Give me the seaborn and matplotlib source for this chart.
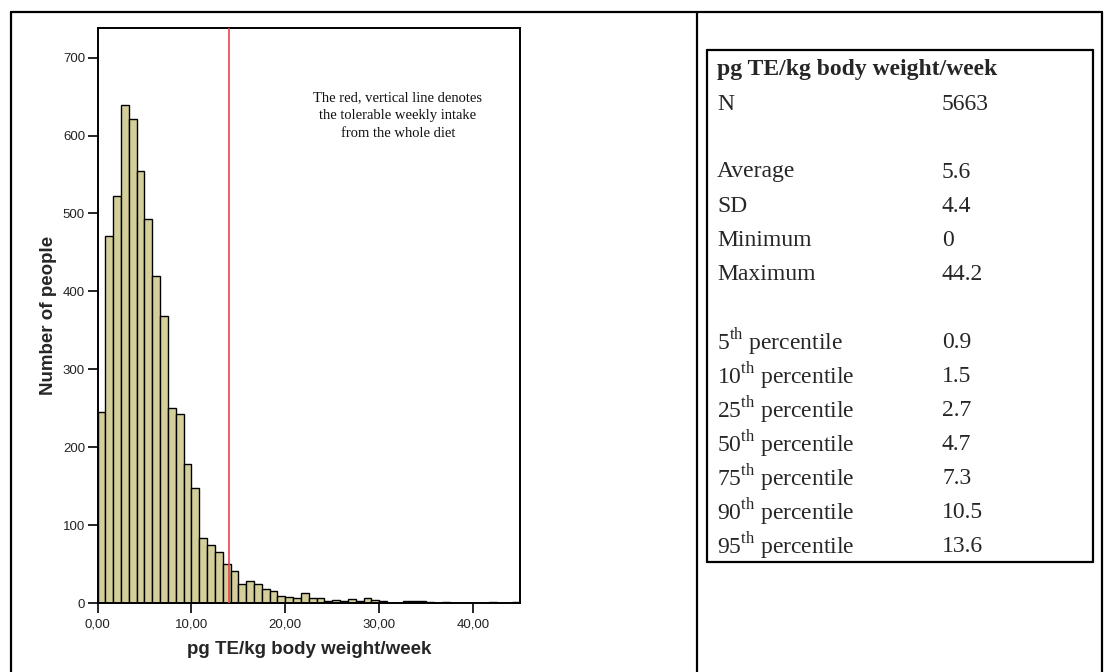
import numpy as np
import pandas as pd
import matplotlib
matplotlib.use("Agg")
import matplotlib.pyplot as plt
from matplotlib.lines import Line2D
import seaborn as sns

# ---- data ----
bin_counts = [245, 471, 522, 639, 621, 555, 493, 420, 369, 250, 243, 178, 147, 83,
              74, 65, 50, 41, 25, 28, 25, 18, 15, 9, 8, 7, 13, 6, 7, 3, 4, 3, 5, 2,
              7, 4, 3, 0, 0, 3, 2, 2, 1, 0, 1, 0, 0, 0, 0, 0, 1, 0, 0, 1]
x_min, x_max = 0.0, 45.0
tolerable_intake = 14.0
x_ticks = [0, 10, 20, 30, 40]
x_tick_labels = ["0,00", "10,00", "20,00", "30,00", "40,00"]
y_ticks = [0, 100, 200, 300, 400, 500, 600, 700]

stat_header = "pg TE/kg body weight/week"
stat_labels = ["N", "", "Average", "SD", "Minimum", "Maximum", "",
               "5$^{\\rm th}$ percentile", "10$^{\\rm th}$ percentile",
               "25$^{\\rm th}$ percentile", "50$^{\\rm th}$ percentile",
               "75$^{\\rm th}$ percentile", "90$^{\\rm th}$ percentile",
               "95$^{\\rm th}$ percentile"]
stat_values = ["5663", "", "5.6", "4.4", "0", "44.2", "",
               "0.9", "1.5", "2.7", "4.7", "7.3", "10.5", "13.6"]

annotation = "The red, vertical line denotes\nthe tolerable weekly intake\nfrom the whole diet"

# ---- build histogram input ----
n_bins = len(bin_counts)
edges = [float(v) for v in np.linspace(x_min, x_max, n_bins + 1)]
centers = [(edges[i] + edges[i + 1]) / 2 for i in range(n_bins)]
df = pd.DataFrame({"value": centers, "count": bin_counts})

sns.set_theme(style="white")
plt.rcParams["font.family"] = ["Liberation Sans", "DejaVu Sans"]
plt.rcParams["mathtext.fontset"] = "custom"
plt.rcParams["mathtext.rm"] = "Liberation Serif"

W, H = 1113, 672
fig = plt.figure(figsize=(W / 100, H / 100), dpi=100)

def fx(px):
    return px / W

def fy(py):
    return 1 - py / H

ax = fig.add_axes([fx(97.5), fy(603), fx(520) - fx(97.5), fy(28) - fy(603)])

sns.histplot(data=df, x="value", weights="count", bins=edges, ax=ax,
             color="#D4CF9A", edgecolor="black", linewidth=1.0, alpha=1.0)
ax.axvline(tolerable_intake, color="#E8434F", lw=1.2, zorder=5)

ax.set_xlim(x_min, x_max)
ax.set_ylim(0, 738)
ax.set_xticks(x_ticks)
ax.set_xticklabels(x_tick_labels)
ax.set_yticks(y_ticks)
ax.tick_params(axis="both", direction="out", length=7, width=1.2, color="black",
               labelsize=9.5, labelcolor="#222222", bottom=True, left=True)
ax.tick_params(axis="x", pad=4)
ax.tick_params(axis="y", pad=2)
for sp in ax.spines.values():
    sp.set_visible(True)
    sp.set_color("black")
    sp.set_linewidth(1.4)
ax.set_xlabel("pg TE/kg body weight/week", fontsize=13.5, fontweight="bold", labelpad=8)
ax.set_ylabel("Number of people", fontsize=13.5, fontweight="bold", labelpad=4)
ax.grid(False)

ax.text(32.0, 626, annotation, ha="center", va="center", fontsize=10.5,
        family=["Liberation Serif", "DejaVu Serif"], linespacing=1.5, color="#111111")

# ---- outer frame and divider ----
lw_frame = 1.6
fig.add_artist(Line2D([fx(11), fx(11)], [fy(12), 0], color="black", lw=lw_frame, transform=fig.transFigure))
fig.add_artist(Line2D([fx(11), fx(1102)], [fy(12), fy(12)], color="black", lw=lw_frame, transform=fig.transFigure))
fig.add_artist(Line2D([fx(1102), fx(1102)], [fy(12), 0], color="black", lw=lw_frame, transform=fig.transFigure))
fig.add_artist(Line2D([fx(697), fx(697)], [fy(12), 0], color="black", lw=lw_frame, transform=fig.transFigure))

# ---- stats box ----
bx0, bx1, by0, by1 = 707, 1093, 50, 562
for xs, ys in [([bx0, bx1], [by0, by0]), ([bx0, bx1], [by1, by1]),
               ([bx0, bx0], [by0, by1]), ([bx1, bx1], [by0, by1])]:
    fig.add_artist(Line2D([fx(v) for v in xs], [fy(v) for v in ys], color="black",
                          lw=lw_frame, transform=fig.transFigure))

serif = ["Liberation Serif", "DejaVu Serif"]
row_h = 34
y0 = 70
fig.text(fx(717), fy(y0), stat_header, ha="left", va="center", fontsize=17,
         fontweight="bold", family=serif)
for i, (lab, val) in enumerate(zip(stat_labels, stat_values)):
    yy = fy(y0 + row_h * (i + 1))
    if lab:
        fig.text(fx(717), yy, lab, ha="left", va="center", fontsize=17, family=serif)
    if val:
        fig.text(fx(942), yy, val, ha="left", va="center", fontsize=17, family=serif)

fig.savefig("out.png", dpi=100)
